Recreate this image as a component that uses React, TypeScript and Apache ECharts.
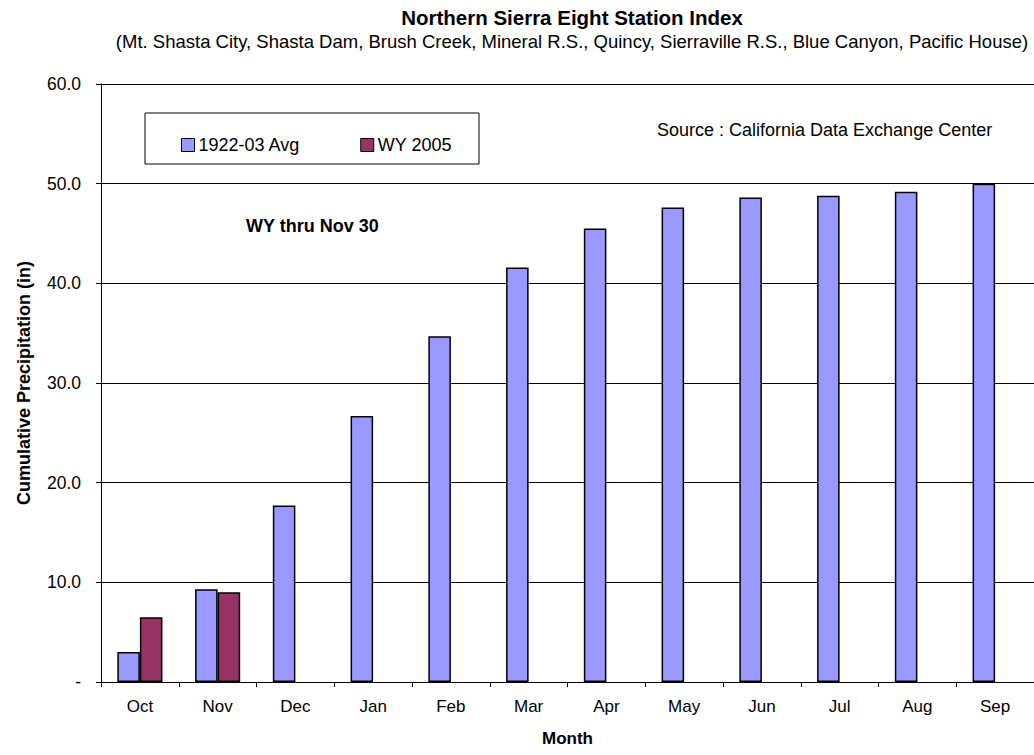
import React, { useEffect, useRef } from "react";
import * as echarts from "echarts";

const months = ["Oct", "Nov", "Dec", "Jan", "Feb", "Mar", "Apr", "May", "Jun", "Jul", "Aug", "Sep"];
const avgValues = [3.0, 9.3, 17.7, 26.7, 34.7, 41.6, 45.5, 47.6, 48.6, 48.8, 49.2, 50.0];
const wyValues: (number | null)[] = [6.5, 9.0, null, null, null, null, null, null, null, null, null, null];
const seriesNames = ["1922-03 Avg", "WY 2005"];

const FONT = "'Liberation Sans', Arial, sans-serif";

export default function App() {
  const ref = useRef<HTMLDivElement>(null);
  useEffect(() => {
    if (!ref.current) return;
    const chart = echarts.init(ref.current, null, { renderer: "svg" });
    chart.setOption({
      animation: false,
      backgroundColor: "#fff",
      textStyle: { fontFamily: FONT },
      title: [
        {
          text: "Northern Sierra Eight Station Index",
          left: 567,
          textAlign: "center",
          top: 2,
          textStyle: { fontFamily: FONT, fontSize: 20.5, fontWeight: "bold", color: "#000" },
        },
        {
          text: "(Mt. Shasta City, Shasta Dam, Brush Creek, Mineral R.S., Quincy, Sierraville R.S., Blue Canyon, Pacific House)",
          left: 567,
          textAlign: "center",
          top: 27,
          textStyle: { fontFamily: FONT, fontSize: 18.5, fontWeight: "normal", color: "#000" },
        },
      ],
      legend: {
        left: 176,
        top: 131,
        itemWidth: 13,
        itemHeight: 13,
        itemGap: 60,
        icon: "rect",
        data: seriesNames,
        textStyle: { fontFamily: FONT, fontSize: 18, color: "#000", padding: [0, 0, 0, -1] },
        itemStyle: { borderColor: "#000", borderWidth: 1 },
      },
      graphic: [
        {
          type: "rect",
          shape: { x: 145, y: 113, width: 334, height: 51 },
          style: { fill: "none", stroke: "#000", lineWidth: 1 },
          z: 0,
        },
        {
          type: "text",
          x: 657,
          y: 121,
          style: { text: "Source : California Data Exchange Center", font: `18px ${FONT}`, fill: "#000" },
        },
        {
          type: "text",
          x: 246,
          y: 217,
          style: { text: "WY thru Nov 30", font: `bold 18px ${FONT}`, fill: "#000" },
        },
      ],
      grid: { left: 101, top: 84, width: 936, height: 598, containLabel: false },
      xAxis: {
        type: "category",
        data: months,
        name: "Month",
        nameLocation: "middle",
        nameGap: 48,
        nameTextStyle: { fontFamily: FONT, fontSize: 17, fontWeight: "bold", color: "#000" },
        axisLine: { lineStyle: { color: "#000", width: 1 } },
        axisTick: { show: true, length: 5, interval: 0, lineStyle: { color: "#000" } },
        axisLabel: { fontFamily: FONT, fontSize: 17, color: "#000", margin: 16, interval: 0 },
      },
      yAxis: {
        type: "value",
        min: 0,
        max: 60,
        interval: 10,
        name: "Cumulative Precipitation (in)",
        nameLocation: "middle",
        nameGap: 68,
        nameTextStyle: { fontFamily: FONT, fontSize: 18, fontWeight: "bold", color: "#000" },
        axisLine: { show: true, lineStyle: { color: "#000", width: 1 } },
        axisTick: { show: true, length: 5, lineStyle: { color: "#000" } },
        axisLabel: {
          fontFamily: FONT,
          fontSize: 17.5,
          color: "#000",
          margin: 20,
          formatter: (v: number) => (v === 0 ? "-" : v.toFixed(1)),
        },
        splitLine: { show: true, lineStyle: { color: "#000", width: 1 } },
      },
      series: [
        {
          name: seriesNames[0],
          type: "bar",
          data: avgValues,
          barGap: "0%",
          barCategoryGap: "42%",
          itemStyle: { color: "#9999FF", borderColor: "#000", borderWidth: 1.5 },
        },
        {
          name: seriesNames[1],
          type: "bar",
          data: wyValues,
          itemStyle: { color: "#993366", borderColor: "#000", borderWidth: 1.5 },
        },
      ],
    });
    return () => chart.dispose();
  }, []);
  return (
    <div
      ref={ref}
      style={{ position: "fixed", left: 0, top: 0, width: 1034, height: 755 }}
    />
  );
}
